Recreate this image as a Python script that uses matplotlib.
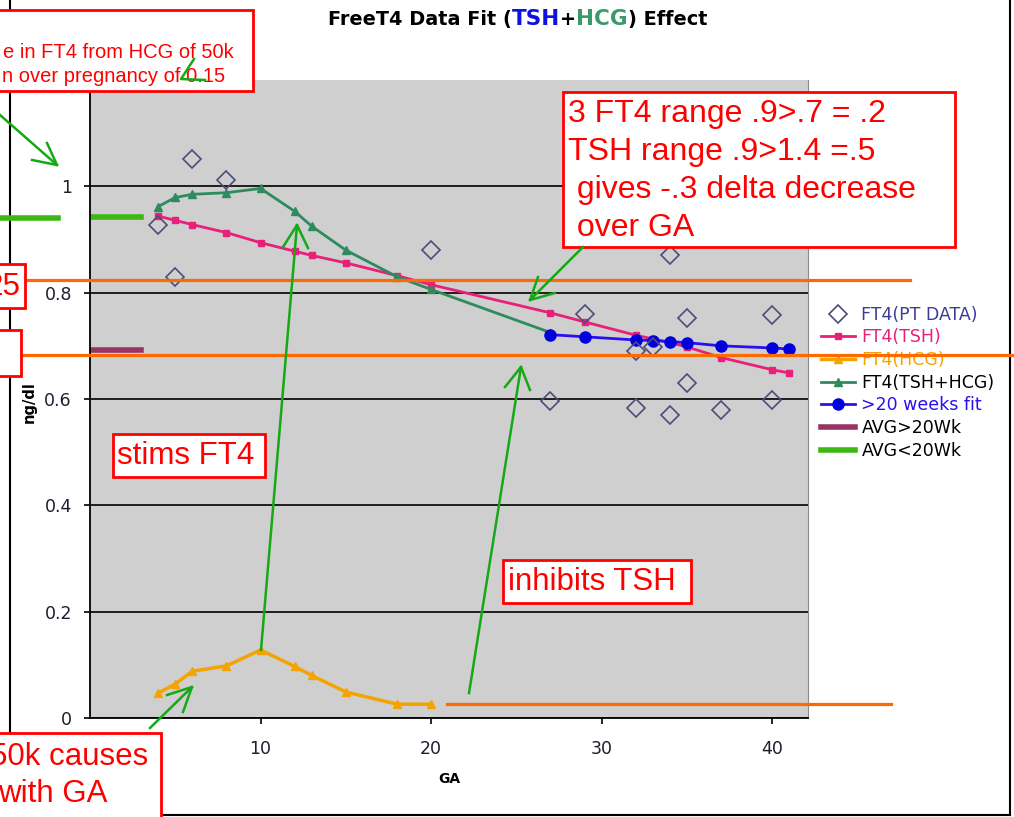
import matplotlib
matplotlib.use("Agg")
import matplotlib.pyplot as plt
from matplotlib.lines import Line2D
from matplotlib.patches import Rectangle

W, H = 1014, 817

# measured FT4 values (patient data)
pt_ga = [4, 5, 6, 8, 20, 27, 29, 32, 32, 33, 34, 34, 35, 35, 37, 40, 40]
pt_ft4 = [0.928, 0.83, 1.051, 1.012, 0.881, 0.596, 0.76, 0.69, 0.583, 0.698,
          0.87, 0.57, 0.753, 0.63, 0.579, 0.758, 0.598]

# TSH driven fit
tsh_ga = [4, 5, 6, 8, 10, 12, 13, 15, 18, 20, 27, 29, 32, 33, 34, 35, 37, 40, 41]
ft4_tsh = [0.944, 0.936, 0.928, 0.913, 0.894, 0.878, 0.870, 0.856, 0.832, 0.815,
           0.762, 0.745, 0.720, 0.713, 0.706, 0.698, 0.678, 0.655, 0.649]

# HCG contribution
hcg_ga = [4, 5, 6, 8, 10, 12, 13, 15, 18, 20]
ft4_hcg = [0.047, 0.064, 0.088, 0.098, 0.128, 0.097, 0.080, 0.049, 0.026, 0.026]

# combined TSH+HCG
sum_ga = [4, 5, 6, 8, 10, 12, 13, 15, 18, 20, 27]
ft4_sum = [0.962, 0.979, 0.985, 0.988, 0.996, 0.953, 0.925, 0.880, 0.830, 0.806, 0.725]

# >20 weeks fit
late_ga = [27, 29, 32, 33, 34, 35, 37, 40, 41]
ft4_late = [0.721, 0.717, 0.711, 0.710, 0.708, 0.706, 0.700, 0.696, 0.694]

# averages
avg_ga = [0, 3]
avg_late = [0.692, 0.692]
avg_early = [0.942, 0.942]

fig = plt.figure(figsize=(W / 100, H / 100), dpi=100)


def fx(px):
    return px / W


def fy(py):
    return 1 - py / H


ax = fig.add_axes([fx(90), fy(718), fx(808) - fx(90), fy(80) - fy(718)])
ax.set_facecolor("#cfcfcf")
ax.set_xlim(0, 42.1)
ax.set_ylim(0, 1.2)
ax.set_xticks([10, 20, 30, 40])
ax.set_yticks([0, 0.2, 0.4, 0.6, 0.8, 1.0])
ax.set_yticklabels(["0", "0.2", "0.4", "0.6", "0.8", "1"])
ax.yaxis.grid(True, color="black", lw=1.2)
ax.set_axisbelow(True)
ax.spines["top"].set_visible(False)
ax.spines["right"].set_color("#8a8a8a")
ax.spines["left"].set_linewidth(1.3)
ax.spines["bottom"].set_linewidth(1.3)
ax.tick_params(axis="both", direction="out", length=4, width=1.2,
               labelsize=12.5, labelcolor="#1e1e30")
ax.tick_params(axis="y", pad=9)
ax.tick_params(axis="x", pad=12)

ax.plot(pt_ga, pt_ft4, "D", mfc="none", mec="#4d4d7a", mew=1.2, ms=9.5,
        ls="none", label="FT4(PT DATA)", zorder=3)
ax.plot(tsh_ga, ft4_tsh, "-s", color="#e8207a", lw=2, ms=4.5, label="FT4(TSH)")
ax.plot(hcg_ga, ft4_hcg, "-^", color="#f5a300", lw=2.5, ms=6, label="FT4(HCG)")
ax.plot(sum_ga, ft4_sum, "-^", color="#2e8b5e", lw=2, ms=6, label="FT4(TSH+HCG)")
ax.plot(late_ga, ft4_late, "-o", color="#2a10f0", mfc="#0000dd", mec="#0000dd",
        lw=2, ms=8, label=">20 weeks fit")
ax.plot(avg_ga, avg_late, "-", color="#993366", lw=4, label="AVG>20Wk")
ax.plot(avg_ga, avg_early, "-", color="#3cb814", lw=4, label="AVG<20Wk")

ax.set_xlabel("GA", fontsize=10, weight="bold", labelpad=10)
fig.text(fx(29), fy(402), "ng/dl", rotation=90, fontsize=10.5, weight="bold",
         ha="center", va="center")

leg = ax.legend(loc="upper left", bbox_to_anchor=(fx(812), fy(297)),
                bbox_transform=fig.transFigure, frameon=False, borderpad=0,
                fontsize=12.5, handlelength=2.0, handletextpad=0.35,
                labelspacing=0.27)
leg_colors = ["#3c3c96", "#e8207a", "#f5a300", "black", "#2a10f0", "black", "black"]
for t, c in zip(leg.get_texts(), leg_colors):
    t.set_color(c)

# title with coloured words
renderer = fig.canvas.get_renderer()
title_parts = [("FreeT4 Data Fit (", "black", 13.9), ("TSH", "#1010e0", 15.5),
               ("+", "black", 13.9), ("HCG", "#3a9a6a", 15.5), (") Effect", "black", 13.9)]
xpos = 328
for s, c, size in title_parts:
    t = fig.text(fx(xpos), fy(25), s, color=c, fontsize=size, weight="bold",
                 va="baseline")
    xpos = t.get_window_extent(renderer).x1

# outer chart frame
for (x0, y0), (x1, y1) in [((10, 0), (10, 815)), ((1010, 0), (1010, 815)),
                           ((10, 815), (1010, 815))]:
    fig.add_artist(Line2D([fx(x0), fx(x1)], [fy(y0), fy(y1)], color="black",
                          lw=1.5, transform=fig.transFigure, zorder=4))

# orange reference lines
for (x0, y0), (x1, y1) in [((25, 280), (910, 280)), ((21, 355), (1012, 355)),
                           ((447, 704), (891, 704))]:
    fig.add_artist(Line2D([fx(x0), fx(x1)], [fy(y0), fy(y1)], color="#ff6a00",
                          lw=2.3, transform=fig.transFigure, zorder=6))

fig.add_artist(Line2D([fx(0), fx(58)], [fy(218), fy(218)], color="#3cb814",
                      lw=4, transform=fig.transFigure, zorder=6))


def box(x0, y0, x1, y1):
    fig.add_artist(Rectangle((fx(x0), fy(y1)), fx(x1) - fx(x0), fy(y0) - fy(y1),
                             transform=fig.transFigure, fc="white",
                             ec="#ff0000", lw=2, zorder=7))


def note(x, y, s, size=22.5, ha="left"):
    fig.text(fx(x), fy(y), s, color="#ff0000", fontsize=size, ha=ha,
             va="baseline", family="Liberation Sans", zorder=8)


box(-5, 10, 253, 91)
note(234, 58, "e in FT4 from HCG of 50k", size=14.5, ha="right")
note(225, 82, "n over pregnancy of 0.15", size=14.5, ha="right")

box(-5, 264, 25, 308)
note(20, 295, "25", ha="right")
box(-5, 330, 21, 376)

box(563, 92, 955, 247)
note(568, 122, "3 FT4 range .9>.7 = .2", size=23)
note(568, 160, "TSH range .9>1.4 =.5", size=23)
note(568, 198, " gives -.3 delta decrease", size=23)
note(568, 236, " over GA", size=23)

box(113, 434, 265, 477)
note(117, 464, "stims FT4")

box(503, 560, 691, 603)
note(508, 590, "inhibits TSH")

box(-5, 733, 161, 830)
note(148, 765, "50k causes", ha="right")
note(108, 802, "with GA", ha="right")


def green(*pts):
    fig.add_artist(Line2D([fx(p[0]) for p in pts], [fy(p[1]) for p in pts],
                          color="#16a816", lw=1.8, transform=fig.transFigure,
                          zorder=9))


def arrow(tail, tip, arm1, arm2):
    green(tail, tip)
    green(arm1, tip, arm2)


arrow((0, 115), (57, 165), (32, 160), (47, 143))
green((194, 59), (181, 79), (205, 80))
arrow((261, 650), (297, 225), (283, 247), (308, 248))
arrow((469, 693), (521, 367), (505, 387), (530, 390))
arrow((583, 247), (530, 300), (555, 293), (538, 277))
arrow((150, 728), (192, 687), (167, 695), (183, 712))

fig.savefig("out.png", dpi=100)
